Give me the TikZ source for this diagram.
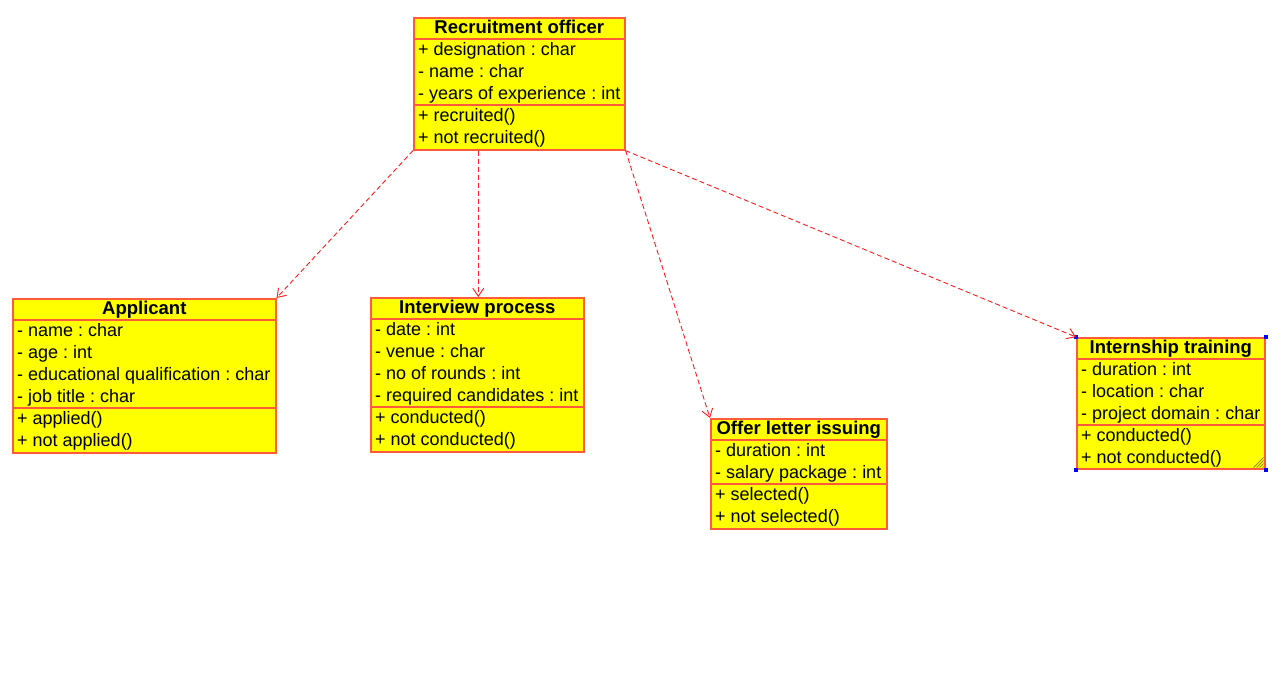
\documentclass[tikz,border=0pt]{standalone}
\usepackage{fontspec}
\setmainfont{Liberation Sans}
\frenchspacing
\usetikzlibrary{calc,arrows.meta}
\definecolor{classfill}{HTML}{FFFF00}
\definecolor{classline}{HTML}{FF5A3C}
\definecolor{deplink}{HTML}{FF1A1A}
\definecolor{handle}{HTML}{0000FF}
\definecolor{grip}{HTML}{808000}
\tikzset{
  classbox/.style={draw=classline, fill=classfill, line width=1.6pt, inner sep=0pt, anchor=north west},
  classsep/.style={draw=classline, line width=1.6pt},
  classtitle/.style={inner sep=0pt, font=\fontsize{18.5}{21}\selectfont\bfseries, text height=13pt, text depth=2.1pt},
  classrow/.style={inner sep=0pt, anchor=west, font=\fontsize{18}{21}\selectfont, text height=13pt, text depth=2.1pt},
  dependency/.style={draw=deplink, line width=0.9pt, dash pattern=on 5pt off 3pt, -{Straight Barb[length=8pt,width=11pt]}},
}
\begin{document}
\begin{tikzpicture}[x=1pt,y=-1pt]
\useasboundingbox (0,0) rectangle (1284,679);

% Recruitment officer
\node[classbox, minimum width=211pt, minimum height=132pt] (ro) at (413,17) {};
\node[classtitle] (ro-title) at ($(ro.north)+(0,11)$) {Recruitment officer};
\draw[classsep] ($(ro.north west)+(0,22)$) -- ($(ro.north east)+(0,22)$);
\draw[classsep] ($(ro.north west)+(0,88)$) -- ($(ro.north east)+(0,88)$);
\foreach \t [count=\i] in {+ designation : char, - name : char, - years of experience : int, + recruited(), + not recruited()}
  \node[classrow] (ro-r\i) at ($(ro.north west)+(5,11+22*\i)$) {\t};

% Applicant
\node[classbox, minimum width=263pt, minimum height=154pt] (app) at (12,298) {};
\node[classtitle] (app-title) at ($(app.north)+(0,11)$) {Applicant};
\draw[classsep] ($(app.north west)+(0,22)$) -- ($(app.north east)+(0,22)$);
\draw[classsep] ($(app.north west)+(0,110)$) -- ($(app.north east)+(0,110)$);
\foreach \t [count=\i] in {- name : char, - age : int, - educational qualification : char, - job title : char, + applied(), + not applied()}
  \node[classrow] (app-r\i) at ($(app.north west)+(5,11+22*\i)$) {\t};

% Interview process
\node[classbox, minimum width=213pt, minimum height=154pt] (ip) at (370,297) {};
\node[classtitle] (ip-title) at ($(ip.north)+(0,11)$) {Interview process};
\draw[classsep] ($(ip.north west)+(0,22)$) -- ($(ip.north east)+(0,22)$);
\draw[classsep] ($(ip.north west)+(0,110)$) -- ($(ip.north east)+(0,110)$);
\foreach \t [count=\i] in {- date : int, - venue : char, - no of rounds : int, - required candidates : int, + conducted(), + not conducted()}
  \node[classrow] (ip-r\i) at ($(ip.north west)+(5,11+22*\i)$) {\t};

% Offer letter issuing
\node[classbox, minimum width=176pt, minimum height=110pt] (off) at (710,418) {};
\node[classtitle] (off-title) at ($(off.north)+(0,11)$) {Offer letter issuing};
\draw[classsep] ($(off.north west)+(0,22)$) -- ($(off.north east)+(0,22)$);
\draw[classsep] ($(off.north west)+(0,66)$) -- ($(off.north east)+(0,66)$);
\foreach \t [count=\i] in {- duration : int, - salary package : int, + selected(), + not selected()}
  \node[classrow] (off-r\i) at ($(off.north west)+(5,11+22*\i)$) {\t};

% Internship training
\node[classbox, minimum width=188pt, minimum height=131pt] (int) at (1076,337) {};
\node[classtitle] (int-title) at ($(int.north)+(0,11)$) {Internship training};
\draw[classsep] ($(int.north west)+(0,22)$) -- ($(int.north east)+(0,22)$);
\draw[classsep] ($(int.north west)+(0,88)$) -- ($(int.north east)+(0,88)$);
\foreach \t [count=\i] in {- duration : int, - location : char, - project domain : char, + conducted(), + not conducted()}
  \node[classrow] (int-r\i) at ($(int.north west)+(5,11+22*\i)$) {\t};
% selection handles and resize grip
\foreach \c in {north west, north east, south west, south east}
  \fill[handle] ($(int.\c)+(-2,-2)$) rectangle ++(4,4);
\foreach \k in {3,6,9,12}
  \draw[grip, line width=0.7pt] ($(int.south east)+(-\k,-2)$) -- ($(int.south east)+(-2,-\k)$);

% Dependencies
\draw[dependency] (ro.south west) -- (app.north east);
\draw[dependency] ($(ip.north |- ro.south)+(1,0)$) -- ($(ip.north)+(1,0)$);
\draw[dependency] (ro.south east) -- (off.north west);
\draw[dependency] (ro.south east) -- (int.north west);
\end{tikzpicture}
\end{document}
